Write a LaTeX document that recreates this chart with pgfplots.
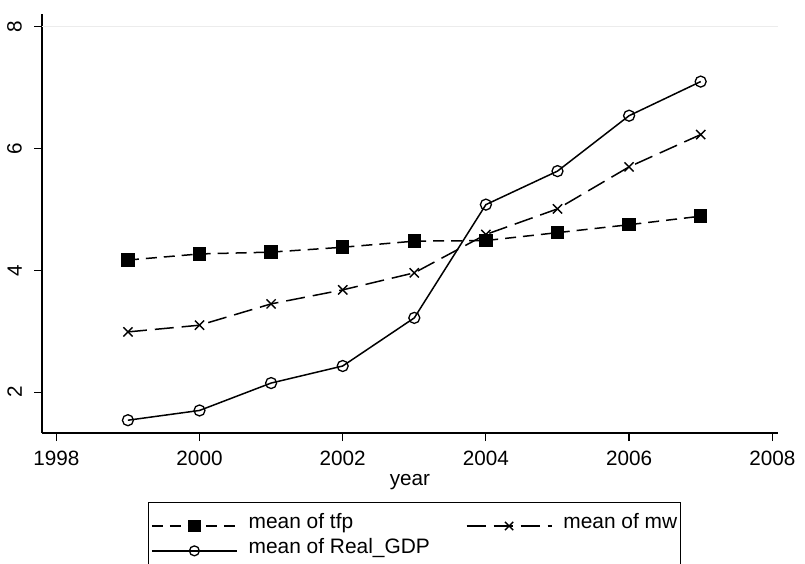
\documentclass[border=0pt]{standalone}
\usepackage{pgfplots}
\pgfplotsset{compat=1.18}
\usepackage{fontspec}
\setmainfont{Liberation Sans}
\begin{document}
\begin{tikzpicture}
\useasboundingbox (0,0) rectangle (805bp,564bp);
\begin{axis}[
  at={(42bp,131bp)}, anchor=south west,
  scale only axis, width=736bp, height=419bp,
  xmin=1997.8, xmax=2008.08, ymin=1.33, ymax=8.21,
  axis lines=left, axis line style={-, line width=1.4bp},
  xtick={1998,2000,...,2008}, ytick={2,4,6,8},
  tick style={line width=1.2bp, black}, major tick length=8bp,
  tick align=outside,
  /pgf/number format/assume math mode=true,
  xticklabel shift=10bp, yticklabel shift=8bp,
  xticklabel style={/pgf/number format/1000 sep={}, inner sep=0pt, font=\fontsize{20.7bp}{24bp}\selectfont},
  yticklabel style={xshift=-4bp, rotate=90, anchor=south, inner sep=0pt, font=\fontsize{20.7bp}{24bp}\selectfont},
  xlabel={year}, xlabel style={font=\fontsize{20.7bp}{24bp}\selectfont, inner sep=0pt, yshift=-8bp},
  extra y ticks={8}, extra y tick labels={}, extra y tick style={grid=major, grid style={gray!15, line width=0.8bp}},
  legend columns=2,
  legend cell align=left,
  legend style={at={(0.1434,-0.1647)}, anchor=north west, draw=black, line width=1.2bp,
    font=\fontsize{20.9bp}{24bp}\selectfont, inner xsep=3bp, inner ysep=18bp,
    nodes={inner sep=0pt, text depth=0.22em, text height=0.73em},
    row sep=14.5bp,
    /tikz/column 1/.style={column sep=11bp},
    /tikz/column 2/.style={column sep=36bp},
    /tikz/column 3/.style={column sep=11bp}},
  legend image code/.code={\draw[mark repeat=2, mark phase=2, every mark/.append style={scale=0.9}, #1] plot coordinates {(0bp,0bp) (42.5bp,0bp) (85bp,0bp)};},
]
\addplot[black, line width=1.5bp, dash pattern=on 11bp off 7bp, mark=square*, mark size=6bp, mark options={solid}] coordinates {
(1999,4.17) (2000,4.27) (2001,4.30) (2002,4.38) (2003,4.48) (2004,4.49) (2005,4.62) (2006,4.75) (2007,4.89)};
\addlegendentry{mean of tfp}
\addplot[black, line width=1.5bp, dash pattern=on 19bp off 8bp, mark=x, mark size=6.5bp, mark options={solid, line width=1.4bp}] coordinates {
(1999,2.99) (2000,3.10) (2001,3.45) (2002,3.68) (2003,3.96) (2004,4.59) (2005,5.01) (2006,5.70) (2007,6.23)};
\addlegendentry{mean of mw}
\addplot[black, line width=1.5bp, mark=o, mark size=5.5bp, mark options={solid, fill=white, line width=1.3bp}] coordinates {
(1999,1.54) (2000,1.70) (2001,2.15) (2002,2.43) (2003,3.22) (2004,5.08) (2005,5.63) (2006,6.54) (2007,7.10)};
\addlegendentry{mean of Real\_GDP}
\end{axis}
\end{tikzpicture}
\end{document}
